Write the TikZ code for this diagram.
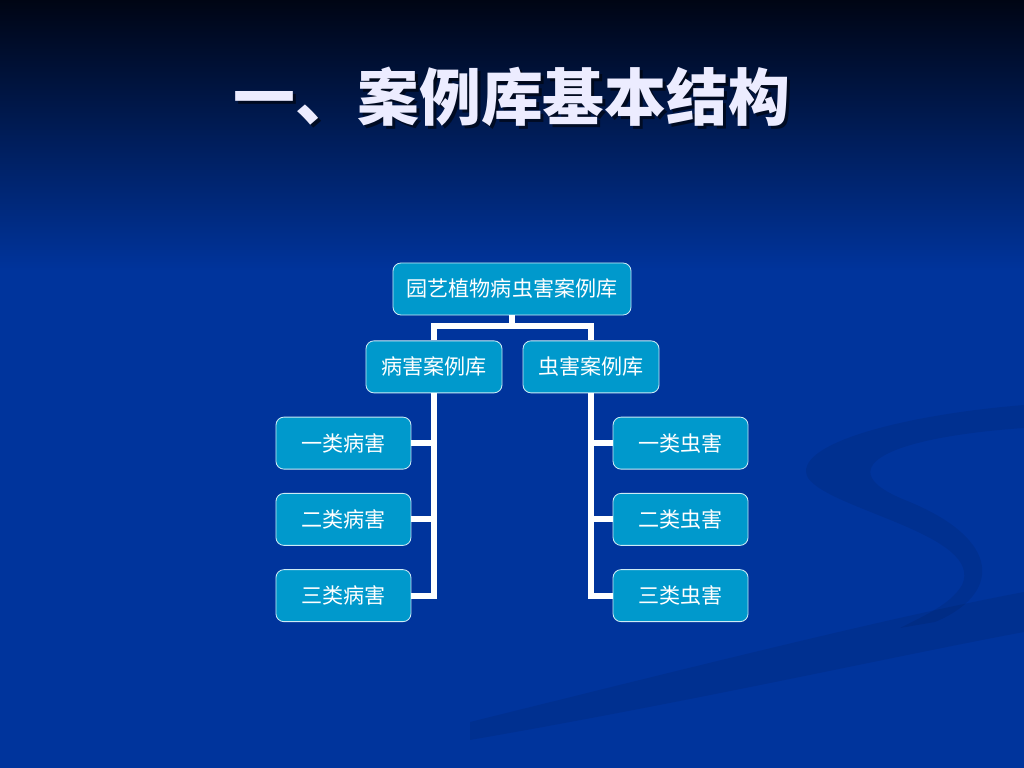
\documentclass[tikz,border=0pt]{standalone}
\usepackage{fontspec}
\setmainfont{Noto Sans CJK SC}
\usetikzlibrary{positioning}
\definecolor{slideblue}{RGB}{0,52,156}
\definecolor{slidetop}{RGB}{0,5,20}
\definecolor{boxfill}{RGB}{0,153,204}
\definecolor{titlewhite}{RGB}{236,236,255}
\tikzstyle{casebox} = [rectangle, rounded corners=0.2cm, fill=boxfill,
draw=white!80!boxfill, line width=0.6pt, text=white, inner sep=0pt,
minimum height=1.3cm, font=\fontsize{15}{15}\selectfont, node distance=0.625cm]
\tikzstyle{sub} = [casebox, minimum width=3.4cm]
\tikzstyle{leaf} = [casebox, minimum width=3.375cm, node distance=0.585cm]
\tikzstyle{link} = [draw=white, line width=0.15cm]
\tikzstyle{swirl} = [fill=black, opacity=0.07]
\newcommand{\branch}[3]{ %
  % Join parent #1 to every leaf in #2 at its side #3.
  \foreach \y in {#2} { %
    \draw[link] (#1.south) |- (\y.#3) ;%
  } ;
}

\begin{document}
\begin{tikzpicture}[x=0.025cm, y=-0.025cm]
  \useasboundingbox (0,0) rectangle (1024,768);
  \fill[slideblue] (0,0) rectangle (1024,768);
  \shade[top color=slidetop, bottom color=slideblue] (0,0) rectangle (1024,270);
  % faint swirl in the background
  \fill[swirl] (1024,405) .. controls (900,415) and (790,445) .. (808,478)
    .. controls (830,510) and (985,535) .. (962,585)
    .. controls (950,605) and (925,615) .. (900,628)
    -- (935,622) .. controls (1000,595) and (1005,540) .. (905,500)
    .. controls (830,470) and (880,438) .. (1024,428) -- cycle;
  \fill[swirl] (470,722) .. controls (700,665) and (900,615) .. (1024,592)
    -- (1024,632) .. controls (900,655) and (700,700) .. (470,740) -- cycle;

  \node[text=black, opacity=0.55, font=\fontsize{44}{44}\selectfont\bfseries]
    (shadow) at (515,100) {一、案例库基本结构};
  \node[text=titlewhite, font=\fontsize{44}{44}\selectfont\bfseries]
    (title) at (512,97) {一、案例库基本结构};

  \node[casebox, minimum width=5.95cm] (lib) at (512,289) {园艺植物病虫害案例库};
  \node[sub, below=of lib, xshift=-1.95cm] (bing) {病害案例库};
  \node[sub, below=of lib, xshift=1.975cm] (chong) {虫害案例库};

  \node[leaf, below=of bing, xshift=-2.2625cm] (b1) {一类病害};
  \node[leaf, below=of b1] (b2) {二类病害};
  \node[leaf, below=of b2] (b3) {三类病害};
  \node[leaf, below=of chong, xshift=2.2375cm] (c1) {一类虫害};
  \node[leaf, below=of c1] (c2) {二类虫害};
  \node[leaf, below=of c2] (c3) {三类虫害};

  \coordinate[below=0.275cm of lib] (hub);
  \draw[link] (lib.south) -- (hub);
  \draw[link] (bing.north) -- (bing.north |- hub) -- (chong.north |- hub) -- (chong.north);
  \branch{bing}{b1,b2,b3}{east}
  \branch{chong}{c1,c2,c3}{west}
\end{tikzpicture}
\end{document}
